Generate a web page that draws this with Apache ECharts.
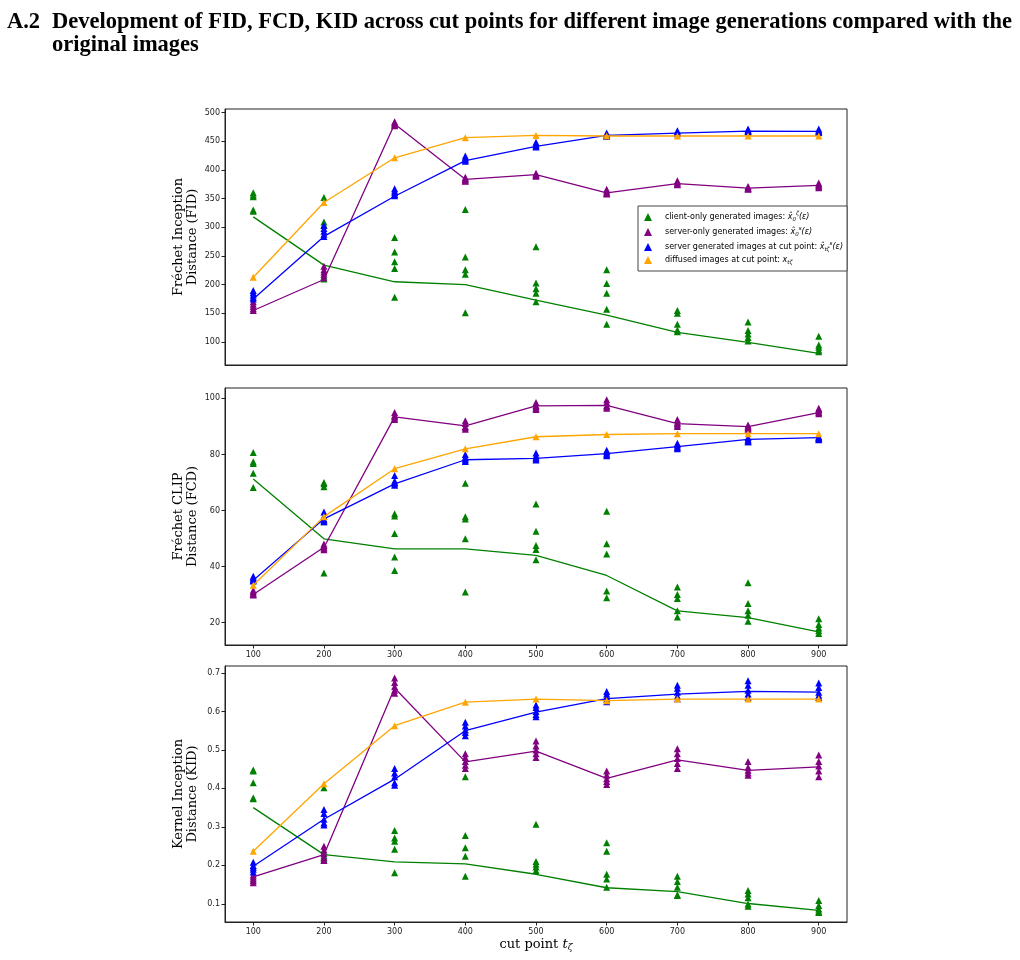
<!DOCTYPE html>
<html>
<head>
<meta charset="utf-8">
<script src="https://cdn.jsdelivr.net/npm/echarts@6/dist/echarts.min.js"></script>
<style>
html, body { margin: 0; padding: 0; background: #fff; }
#main { width: 1020px; height: 960px; }
</style>
</head>
<body>
<div id="main"></div>
<script>
// cut points and tick labels
var cutPoints = [100, 200, 300, 400, 500, 600, 700, 800, 900];
var fidTicks = [100, 150, 200, 250, 300, 350, 400, 450, 500];
var fcdTicks = [20, 40, 60, 80, 100];
var kidTicks = [0.1, 0.2, 0.3, 0.4, 0.5, 0.6, 0.7];

// FID - several runs per cut point, plus the plotted line
var fidClient = [
  [360, 356, 353, 330, 328], [352, 309, 304, 215, 210], [282, 257, 240, 228, 178],
  [331, 248, 226, 218, 151], [266, 203, 193, 185, 170], [226, 202, 185, 157, 131],
  [155, 150, 131, 121, 118], [135, 120, 114, 108, 102], [110, 95, 91, 86, 83]
];
var fidClientLine = [318, 234, 205, 200, 173, 147, 117, 99.5, 80.3];
var fidServer = [
  [170, 166, 162, 158, 155], [232, 226, 222, 218, 212], [484, 482, 480, 478, 477],
  [387, 385, 383, 381, 380], [394, 392, 391, 390, 389], [366, 363, 361, 359, 358],
  [381, 379, 377, 375, 374], [371, 369, 368, 367, 366], [377, 375, 373, 371, 369]
];
var fidServerLine = [155, 209, 480, 383.5, 391.6, 359.7, 376, 368, 373];
var fidCut = [
  [190, 186, 182, 178, 175], [303, 298, 293, 288, 284], [367, 363, 360, 357, 355],
  [424, 421, 419, 417, 415], [448, 445, 443, 441, 440], [464, 462, 460, 459, 458],
  [468, 466, 465, 464, 463], [471, 469, 468, 467, 466], [471, 469, 467, 466, 465]
];
var fidCutLine = [175, 284, 354, 416, 441, 460, 464, 467.5, 467];
var fidDiffused = [213, 343, 421, 456, 460, 459, 459, 459, 459];

// FCD
var fcdClient = [
  [80.7, 77.4, 76.8, 73.3, 68.2], [70, 69.5, 68.5, 56, 37.7], [58.8, 58, 51.8, 43.4, 38.6],
  [69.7, 57.8, 57, 49.9, 30.9], [62.3, 52.6, 47.5, 46.1, 42.4], [59.7, 48.1, 44.5, 31.3, 28.9],
  [32.7, 30, 28.6, 24.2, 22], [34.2, 26.8, 24.2, 22.6, 20.5], [21.4, 19.3, 18.1, 17.1, 16.1]
];
var fcdClientLine = [71.2, 49.9, 46.3, 46.3, 44, 36.8, 24.2, 21.8, 16.7];
var fcdServer = [
  [31.5, 31, 30.5, 30, 29.8], [48, 47.5, 47, 46.5, 46], [95, 94, 93.5, 93, 92.5],
  [92, 91, 90, 89.5, 89], [98.5, 97.5, 97, 96.5, 96], [99.5, 98.5, 97.5, 97, 96.5],
  [92.5, 91.5, 91, 90.5, 90], [90.5, 90, 89.5, 89.5, 89], [96.5, 96, 95.5, 95, 94.5]
];
var fcdServerLine = [30, 46.9, 93.4, 90.2, 97.3, 97.5, 91, 89.9, 94.9];
var fcdCut = [
  [36.5, 36, 35.5, 35, 34.8], [59.5, 58, 57, 56.5, 56], [72.5, 70.5, 70, 69.5, 69],
  [80, 79, 78.5, 78, 77.5], [80.5, 79.5, 79, 78.5, 78], [81.5, 81, 80.5, 80, 79.5],
  [84, 83.5, 83, 82.5, 82], [86, 85.5, 85, 84.5, 84.5], [86.3, 86, 85.8, 85.5, 85.2]
];
var fcdCutLine = [35.1, 57, 69.5, 78.1, 78.6, 80.3, 82.8, 85.4, 86];
var fcdDiffused = [33.3, 57.8, 74.9, 82, 86.3, 87.1, 87.4, 87.4, 87.4];

// KID
var kidClient = [
  [0.448, 0.445, 0.415, 0.375, 0.373], [0.402, 0.235, 0.225, 0.22, 0.215], [0.291, 0.271, 0.263, 0.242, 0.181],
  [0.43, 0.278, 0.246, 0.224, 0.172], [0.307, 0.21, 0.203, 0.196, 0.187], [0.259, 0.237, 0.177, 0.165, 0.143],
  [0.172, 0.158, 0.143, 0.123, 0.122], [0.135, 0.126, 0.116, 0.1, 0.094], [0.109, 0.096, 0.087, 0.081, 0.078]
];
var kidClientLine = [0.35, 0.228, 0.209, 0.204, 0.177, 0.142, 0.132, 0.101, 0.083];
var kidServer = [
  [0.175, 0.17, 0.165, 0.16, 0.155], [0.25, 0.24, 0.23, 0.22, 0.213], [0.687, 0.675, 0.665, 0.655, 0.647],
  [0.49, 0.48, 0.47, 0.46, 0.452], [0.523, 0.51, 0.5, 0.49, 0.48], [0.445, 0.435, 0.425, 0.418, 0.41],
  [0.503, 0.49, 0.478, 0.465, 0.452], [0.47, 0.455, 0.447, 0.44, 0.434], [0.487, 0.47, 0.458, 0.445, 0.43]
];
var kidServerLine = [0.17, 0.228, 0.661, 0.469, 0.497, 0.426, 0.474, 0.447, 0.456];
var kidCut = [
  [0.208, 0.2, 0.195, 0.19, 0.183], [0.345, 0.335, 0.32, 0.31, 0.305], [0.452, 0.44, 0.43, 0.415, 0.408],
  [0.572, 0.562, 0.552, 0.545, 0.537], [0.617, 0.61, 0.6, 0.592, 0.586], [0.652, 0.645, 0.638, 0.632, 0.625],
  [0.668, 0.66, 0.65, 0.64, 0.633], [0.68, 0.668, 0.655, 0.645, 0.636], [0.674, 0.662, 0.65, 0.642, 0.636]
];
var kidCutLine = [0.198, 0.32, 0.424, 0.55, 0.598, 0.633, 0.645, 0.652, 0.65];
var kidDiffused = [0.237, 0.412, 0.563, 0.624, 0.632, 0.628, 0.632, 0.632, 0.632];

var names = ['client-only generated images', 'server-only generated images',
  'server generated images at cut point', 'diffused images at cut point'];
var colors = ['#008000', '#800080', '#0000ff', '#ffa500'];

var myChart = echarts.init(document.getElementById('main'));

var panels = [
  { top: 109, height: 256, min: 60, max: 506, ticks: fidTicks, label: 'Fréchet Inception\nDistance (FID)',
    pts: [fidClient, fidServer, fidCut, fidDiffused], lines: [fidClientLine, fidServerLine, fidCutLine, fidDiffused] },
  { top: 388, height: 257, min: 12, max: 103.7, ticks: fcdTicks, label: 'Fréchet CLIP\nDistance (FCD)',
    pts: [fcdClient, fcdServer, fcdCut, fcdDiffused], lines: [fcdClientLine, fcdServerLine, fcdCutLine, fcdDiffused] },
  { top: 666, height: 256, min: 0.053, max: 0.718, ticks: kidTicks, label: 'Kernel Inception\nDistance (KID)',
    pts: [kidClient, kidServer, kidCut, kidDiffused], lines: [kidClientLine, kidServerLine, kidCutLine, kidDiffused] }
];

function toPoints(arr) {
  var out = [];
  arr.forEach(function (v, i) {
    if (Array.isArray(v)) {
      v.forEach(function (w) { out.push([cutPoints[i], w]); });
    } else {
      out.push([cutPoints[i], v]);
    }
  });
  return out;
}

var tickFont = { fontFamily: 'DejaVu Sans', fontSize: 8, color: '#222' };
var grid = [], xAxis = [], yAxis = [], series = [];

panels.forEach(function (p, k) {
  grid.push({ left: 225, width: 622, top: p.top, height: p.height, show: true,
    borderColor: '#222', borderWidth: 1, outerBoundsMode: 'none' });
  var showX = k > 0;
  xAxis.push({
    gridIndex: k, type: 'value', min: 60, max: 940,
    axisLine: { lineStyle: { color: '#222', width: 1 } },
    axisTick: { show: showX, length: 3.5, lineStyle: { color: '#222' }, customValues: cutPoints },
    axisLabel: Object.assign({ show: showX, margin: 6, customValues: cutPoints }, tickFont),
    splitLine: { show: false },
    name: k === 2 ? '{n|cut point }{t|t}{z|ζ}' : '',
    nameLocation: 'middle', nameGap: 15, nameMoveOverlap: false,
    nameTextStyle: { rich: {
      n: { fontFamily: 'DejaVu Serif', fontSize: 13, color: '#000' },
      t: { fontFamily: 'DejaVu Serif', fontStyle: 'italic', fontSize: 13, color: '#000' },
      z: { fontFamily: 'DejaVu Serif', fontStyle: 'italic', fontSize: 9, color: '#000', verticalAlign: 'bottom', padding: [6, 0, 0, 0] }
    } }
  });
  yAxis.push({
    gridIndex: k, type: 'value', min: p.min, max: p.max,
    axisLine: { lineStyle: { color: '#222', width: 1 } },
    axisTick: { length: 3.5, lineStyle: { color: '#222' }, customValues: p.ticks },
    axisLabel: Object.assign({ margin: 5, customValues: p.ticks }, tickFont),
    splitLine: { show: false },
    name: p.label, nameLocation: 'middle', nameGap: 25, nameMoveOverlap: false,
    nameTextStyle: { fontFamily: 'DejaVu Serif', fontSize: 13, lineHeight: 14.5, color: '#000' }
  });
  for (var s = 0; s < 4; s++) {
    series.push({
      type: 'scatter', name: names[s], xAxisIndex: k, yAxisIndex: k,
      data: toPoints(p.pts[s]), symbol: 'triangle', symbolSize: 7,
      itemStyle: { color: colors[s], opacity: 1 }, z: 2 + s
    });
    series.push({
      type: 'line', name: names[s] + ' line', xAxisIndex: k, yAxisIndex: k,
      data: toPoints(p.lines[s]), showSymbol: false, symbol: 'none',
      lineStyle: { color: colors[s], width: 1.3 }, itemStyle: { color: colors[s] }, z: 2 + s
    });
  }
});

var legendMath = {
  'client-only generated images': '{i|x̂}{b|0}{u|ζ}{m|(ε)}',
  'server-only generated images': '{i|x̂}{b|0}{u|s}{m|(ε)}',
  'server generated images at cut point': '{i|x̂}{b|tζ}{u|s}{m|(ε)}',
  'diffused images at cut point': '{i|x}{b|tζ}'
};

var titleFont = { fontFamily: 'Liberation Serif', fontWeight: 'bold', fontSize: 22.5, lineHeight: 22.5, color: '#000' };

option = {
  animation: false,
  backgroundColor: '#fff',
  title: [
    { text: 'A.2', left: 7, top: 11, padding: 0, textStyle: titleFont },
    { text: 'Development of FID, FCD, KID across cut points for different image generations compared with the\noriginal images',
      left: 52, top: 11, padding: 0, textStyle: titleFont }
  ],
  legend: {
    data: names, orient: 'vertical', left: 638, top: 206,
    padding: [5, 4, 5, 6], itemGap: 3, itemWidth: 8, itemHeight: 8, icon: 'triangle',
    backgroundColor: '#fff', borderColor: '#444', borderWidth: 1, borderRadius: 0,
    formatter: function (name) { return '{t|' + name + ': }' + legendMath[name]; },
    textStyle: {
      padding: [0, 0, 0, 8],
      rich: {
        t: { fontFamily: 'DejaVu Sans', fontSize: 8, color: '#000', lineHeight: 12 },
        i: { fontFamily: 'DejaVu Sans', fontStyle: 'italic', fontSize: 8, color: '#000' },
        m: { fontFamily: 'DejaVu Sans', fontStyle: 'italic', fontSize: 8, color: '#000' },
        b: { fontFamily: 'DejaVu Sans', fontStyle: 'italic', fontSize: 5.5, color: '#000', verticalAlign: 'bottom', padding: [4, 0, 0, 0] },
        u: { fontFamily: 'DejaVu Sans', fontStyle: 'italic', fontSize: 5.5, color: '#000', verticalAlign: 'top', padding: [0, 0, 4, 0] }
      }
    }
  },
  grid: grid,
  xAxis: xAxis,
  yAxis: yAxis,
  series: series
};

myChart.setOption(option);
</script>
</body>
</html>
